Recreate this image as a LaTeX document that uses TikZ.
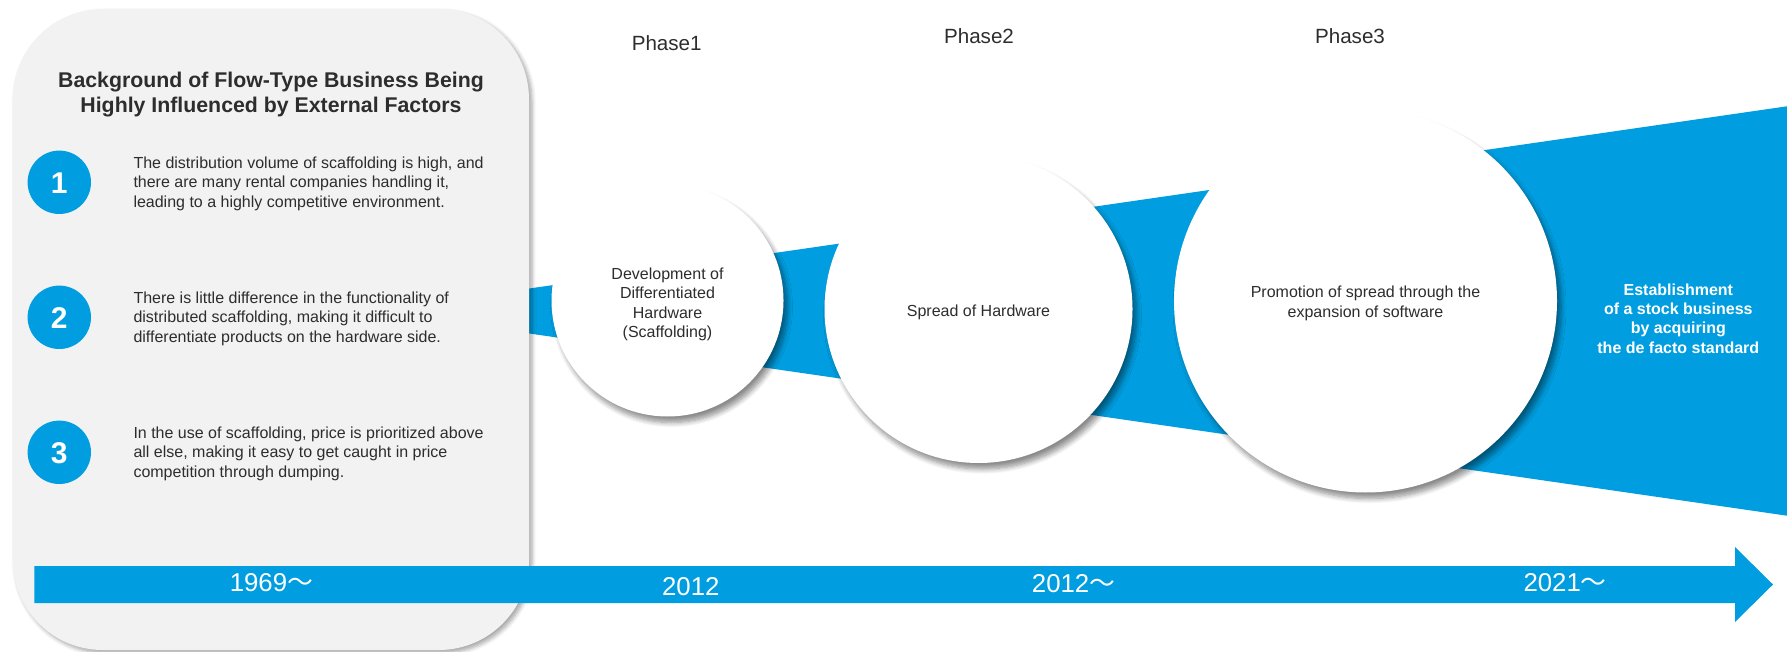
\documentclass[tikz,border=0pt]{standalone}
\usepackage{fontspec}
\setmainfont{Liberation Sans}[Ligatures=NoCommon]
\newfontfamily\cjk{Noto Sans CJK JP}
\usetikzlibrary{shadows.blur}

\definecolor{brandblue}{RGB}{0,158,224}
\definecolor{panelgray}{RGB}{242,242,242}
\definecolor{inkgray}{RGB}{45,45,45}

\begin{document}
\begin{tikzpicture}[x=1pt,y=-1pt,
  bodytext/.style={font=\fontsize{16}{19.5}\selectfont, text=inkgray, inner sep=0pt},
  titletext/.style={font=\bfseries\fontsize{21.3}{25}\selectfont, text=inkgray, inner sep=0pt, align=center},
  phasetext/.style={font=\fontsize{20.6}{24}\selectfont, text=inkgray, inner sep=0pt},
  yeartext/.style={font=\fontsize{25.8}{30}\selectfont, text=white, inner sep=0pt},
  goaltext/.style={font=\bfseries\fontsize{16}{19.3}\selectfont, text=white, inner sep=0pt, align=center},
  numdot/.style={circle, fill=brandblue, minimum size=63.4pt, inner sep=0pt,
    text=white, font=\bfseries\fontsize{30}{30}\selectfont, text height=21.5pt, text depth=0pt},
  stagecircle/.style={circle, fill=white, inner sep=0pt,
    blur shadow={shadow xshift=4pt, shadow yshift=-6pt, shadow blur radius=5pt,
                 shadow blur steps=8, shadow opacity=45}},
]
\useasboundingbox (0,0) rectangle (1787,652);

% widening band behind the stages
\fill[brandblue] (374,311) -- (1787,106.3) -- (1787,515.7) -- cycle;

% background panel
\fill[panelgray, rounded corners=90pt,
      blur shadow={shadow xshift=3pt, shadow yshift=-3pt, shadow blur radius=4pt,
                   shadow blur steps=6, shadow opacity=35}]
  (12.7,9) rectangle (529,650);

% time line arrow
\fill[brandblue] (34.4,566) -- (1735,566) -- (1735,547) -- (1773,584.5)
  -- (1735,622) -- (1735,603) -- (34.4,603) -- cycle;

% panel contents
\node[titletext, anchor=north] (title) at (271,71.5)
  {Background of Flow-Type Business Being\\Highly Influenced by External Factors};

\node[numdot] (n1) at (59.3,182.3) {1};
\node[numdot] (n2) at (59.3,317.3) {2};
\node[numdot] (n3) at (59.3,452.3) {3};

\node[bodytext, align=left, anchor=north west] (r1) at (133.3,156.6)
  {The distribution volume of scaffolding is high, and\\there are many rental companies handling it,\\leading to a highly competitive environment.};
\node[bodytext, align=left, anchor=north west] (r2) at (133.3,291.6)
  {There is little difference in the functionality of\\distributed scaffolding, making it difficult to\\differentiate products on the hardware side.};
\node[bodytext, align=left, anchor=north west] (r3) at (133.3,426.6)
  {In the use of scaffolding, price is prioritized above\\all else, making it easy to get caught in price\\competition through dumping.};

% stages
\node[stagecircle, minimum size=232pt] (cA) at (667.5,300.5) {};
\node[stagecircle, minimum size=308pt] (cB) at (978.5,309) {};
\node[stagecircle, minimum size=383pt] (cC) at (1365.5,301) {};

\node[bodytext, align=center, anchor=north] (tA) at (667.5,267.5)
  {Development of\\Differentiated\\Hardware\\(Scaffolding)};
\node[bodytext, anchor=base] (tB) at (978.5,316) {Spread of Hardware};
\node[bodytext, align=center, anchor=north] (tC) at (1365.5,286)
  {Promotion of spread through the\\expansion of software};

\node[goaltext, anchor=north] (goal) at (1678.3,283.5)
  {Establishment\\of a stock business\\by acquiring\\the de facto standard};

% phase headings
\node[phasetext, anchor=base] (p1) at (666.7,50.7) {Phase1};
\node[phasetext, anchor=base] (p2) at (979,43.3) {Phase2};
\node[phasetext, anchor=base] (p3) at (1350,43.3) {Phase3};

% years on the arrow
\node[yeartext, anchor=base west] (y1) at (229.6,591.7) {1969{\cjk ～}};
\node[yeartext, anchor=base] (y2) at (690.8,595) {2012};
\node[yeartext, anchor=base west] (y3) at (1031.7,592.3) {2012{\cjk ～}};
\node[yeartext, anchor=base west] (y4) at (1523.3,591.7) {2021{\cjk ～}};
\end{tikzpicture}
\end{document}
